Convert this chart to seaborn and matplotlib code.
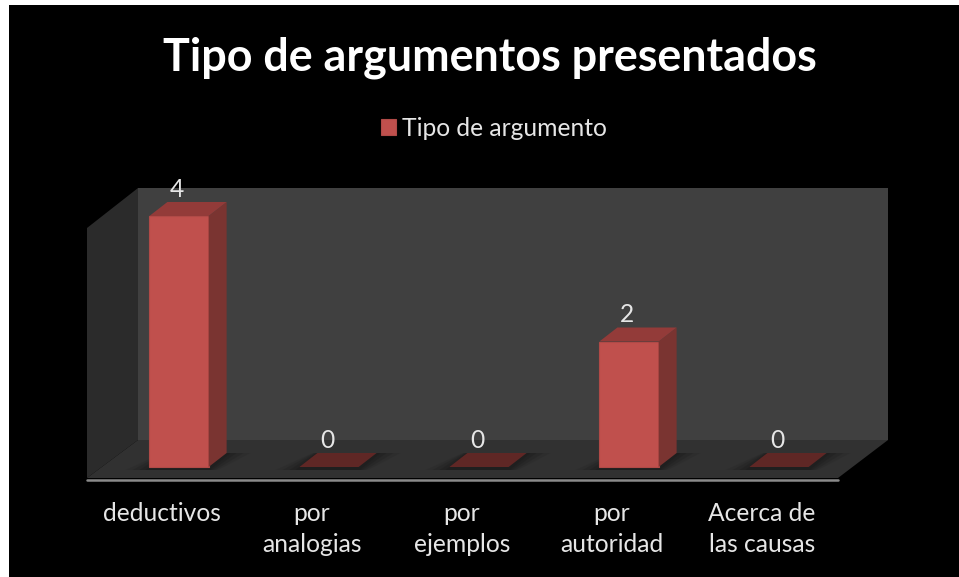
import matplotlib
matplotlib.use("Agg")
import matplotlib.pyplot as plt
from matplotlib.patches import Polygon, Rectangle
from matplotlib.transforms import Affine2D
import seaborn as sns
import pandas as pd

categories = ["deductivos", "por\nanalogias", "por\nejemplos", "por\nautoridad", "Acerca de\nlas causas"]
values = [4, 0, 0, 2, 0]
series_name = "Tipo de argumento"
title = "Tipo de argumentos presentados"

W, H = 959, 577
sns.set_theme(style="dark")
plt.rcParams["font.family"] = ["Lato", "DejaVu Sans"]

fig = plt.figure(figsize=(W / 100, H / 100), dpi=100, facecolor="white")
px = Affine2D().scale(1, -1).translate(0, H)

def poly(pts, color, z, alpha=1.0):
    fig.add_artist(Polygon(pts, closed=True, facecolor=color, edgecolor="none",
                           transform=px, zorder=z, alpha=alpha))

fig.add_artist(Rectangle((9, 5), 950, 572, facecolor="black", edgecolor="none", transform=px, zorder=-10))
# walls and floor
poly([(138, 188), (888, 188), (888, 440), (138, 440)], "#404040", -9)
poly([(87, 228), (138, 188), (138, 440), (87, 478)], "#2b2b2b", -9)
poly([(87, 478), (138, 440), (888, 440), (838, 478)], "#313131", -9)
fig.add_artist(plt.Line2D([87, 838], [479.5, 479.5], color="#8a8a8a", lw=1.8, transform=px, zorder=-8))

# axes: x spans five categories, y spans value range on the bar plane
left, right, base, top4 = 104, 854, 467, 216
ax = fig.add_axes([left / W, 1 - base / H, (right - left) / W, (base - top4) / H])
ax.patch.set_alpha(0)
df = pd.DataFrame({"categoria": categories, "valor": values})
sns.barplot(data=df, x="categoria", y="valor", color="#c0504d", saturation=1, width=0.395,
            ax=ax, label=series_name, legend=False, zorder=5)
ax.set_xlim(-0.5, 4.5)
ax.set_ylim(0, 4)
ax.set_yticks([])
ax.set_xlabel("")
ax.set_ylabel("")
for s in ax.spines.values():
    s.set_visible(False)

# depth faces derived from each bar's data-driven geometry
dx, dy = 18, -14
fig.canvas.draw()
bars = [p for p in ax.patches]
for bar, v in zip(bars, values):
    x0, y0 = ax.transData.transform((bar.get_x(), 0))
    x1, y1 = ax.transData.transform((bar.get_x() + bar.get_width(), v))
    x0p, x1p = x0, x1
    yb, yt = H - y0, H - y1
    # soft floor shadow
    for grow, a in ((24, 0.15), (17, 0.25), (10, 0.35), (4, 0.45)):
        poly([(x0p - grow, yb + 3), (x1p + grow * 0.4, yb + 3),
              (x1p + dx + grow, yb + dy), (x0p + dx - grow * 0.2, yb + dy)], "#1c1c1c", -5, a)
    if v == 0:
        poly([(x0p, yb), (x1p, yb), (x1p + dx, yb + dy), (x0p + dx, yb + dy)], "#5f2725", 6)
        bar.set_visible(False)
    else:
        poly([(x1p, yb), (x1p + dx, yb + dy), (x1p + dx, yt + dy), (x1p, yt)], "#7a3431", 4)
        poly([(x0p, yt), (x1p, yt), (x1p + dx, yt + dy), (x0p + dx, yt + dy)], "#933b39", 4)
        bar.set_zorder(7)
        bar.set_edgecolor("#b04a47")
        bar.set_linewidth(0.8)
        bar.set_clip_on(False)
        bar.set_transform(ax.transData)

# value labels
for i, v in enumerate(values):
    ax.annotate(str(v), (i, v), xytext=(-2, 27), textcoords="offset pixels",
                ha="center", va="center", color="#e6e6e6", fontsize=17.7, zorder=9, annotation_clip=False)

# category labels
ax.set_xticks(range(len(categories)))
ax.set_xticklabels(categories, color="#e6e6e6", fontsize=17.7, linespacing=1.45)
ax.tick_params(axis="x", length=0, pad=25)
shift = Affine2D().translate(-17, 0)
for lab in ax.get_xticklabels():
    lab.set_transform(lab.get_transform() + shift)

fig.text(490 / W, 1 - 58 / H, title, color="white", fontsize=32.3, fontweight="bold", ha="center", va="center")

h, l = ax.get_legend_handles_labels()
leg = fig.legend(h[:1], l[:1], loc="center", bbox_to_anchor=(494 / W, 1 - 128 / H),
                 frameon=False, fontsize=17.7, labelcolor="#e6e6e6",
                 handlelength=0.6, handleheight=0.6, handletextpad=0.25)

fig.savefig("out.png", dpi=100, facecolor="white")
